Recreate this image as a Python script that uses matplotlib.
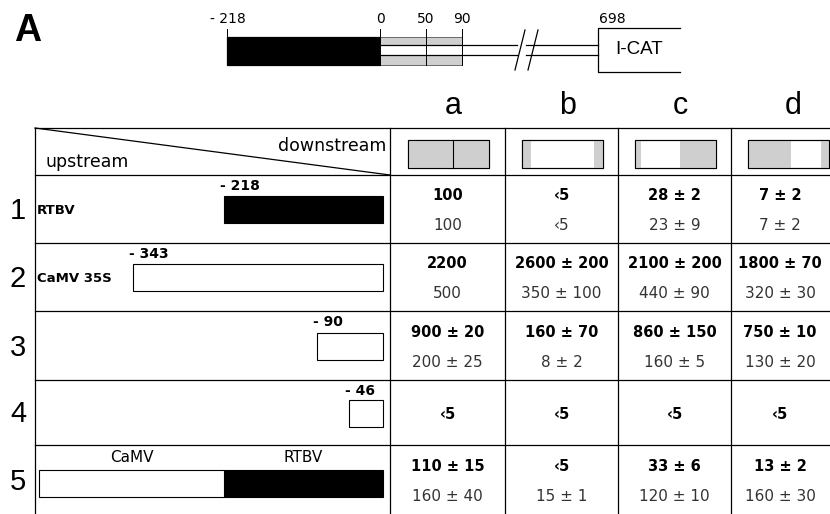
import matplotlib.pyplot as plt
from matplotlib.patches import Rectangle

# Column / row labels
col_labels = ['a', 'b', 'c', 'd']
row_labels = ['1', '2', '3', '4', '5']

# Promoter constructs (upstream end, bp relative to start site)
promoter_names = ['RTBV', 'CaMV 35S', '', '', '']
promoter_starts = [-218, -343, -90, -46, None]
promoter_fill = ['black', 'white', 'white', 'white', None]
# row 5 chimera: CaMV -343..-90 fused to RTBV -218..0
chimera_parts = [('CaMV', 253, 'white'), ('RTBV', 218, 'black')]

# Leader segments kept in each downstream construct (bp 0..90)
leader_kept = [[(0, 50), (50, 90)], [(0, 10), (81, 90)], [(0, 7), (50, 90)], [(0, 48), (82, 90)]]

# Activities: bold (upper) and regular (lower) values per column, rows 1-5
act_a_top = ['100', '2200', '900 ± 20', '‹5', '110 ± 15']
act_a_bot = ['100', '500', '200 ± 25', '', '160 ± 40']
act_b_top = ['‹5', '2600 ± 200', '160 ± 70', '‹5', '‹5']
act_b_bot = ['‹5', '350 ± 100', '8 ± 2', '', '15 ± 1']
act_c_top = ['28 ± 2', '2100 ± 200', '860 ± 150', '‹5', '33 ± 6']
act_c_bot = ['23 ± 9', '440 ± 90', '160 ± 5', '', '120 ± 10']
act_d_top = ['7 ± 2', '1800 ± 70', '750 ± 10', '‹5', '13 ± 2']
act_d_bot = ['7 ± 2', '320 ± 30', '130 ± 20', '', '160 ± 30']

# Top map tick labels
map_ticks = [-218, 0, 50, 90]

tops = [act_a_top, act_b_top, act_c_top, act_d_top]
bots = [act_a_bot, act_b_bot, act_c_bot, act_d_bot]

fig = plt.figure(figsize=(8.3, 5.14), dpi=100)
ax = fig.add_axes([0, 0, 1, 1])
ax.set_xlim(0, 830)
ax.set_ylim(514, 0)
ax.axis('off')

LS = 'Liberation Sans'
DV = 'DejaVu Sans'
gray = '#cfcfcf'
lw = 0.9

# ---- panel label
ax.text(28, 31, 'A', fontsize=27, fontweight='bold', family=LS, va='center', ha='center')

# ---- top map
def map_x(bp):
    if bp <= 0:
        return 380 + bp * 0.70
    return 380 + bp * 0.91

y0, y1 = 37, 65
ax.add_patch(Rectangle((map_x(-218), y0), map_x(0) - map_x(-218), y1 - y0, fc='black', ec='black', lw=lw))
ax.add_patch(Rectangle((map_x(0), y0), map_x(90) - map_x(0), y1 - y0, fc=gray, ec='#555555', lw=0.6))
ax.add_patch(Rectangle((map_x(0), 45), map_x(90) - map_x(0), 10, fc='white', ec='none'))
ax.plot([map_x(0), 517], [45, 45], color='black', lw=lw)
ax.plot([map_x(0), 517], [55, 55], color='black', lw=lw)
ax.plot([526, 598], [45, 45], color='black', lw=lw)
ax.plot([526, 598], [55, 55], color='black', lw=lw)
ax.plot([515, 525], [70, 30], color='black', lw=lw)
ax.plot([528, 538], [70, 30], color='black', lw=lw)
for t in map_ticks:
    ax.plot([map_x(t), map_x(t)], [29, y1], color='black', lw=0.7)
    ax.text(map_x(t), 19, str(t).replace('-', '- '), fontsize=10, family=DV, ha='center', va='center')
ax.text(612, 19, '698', fontsize=10, family=DV, ha='center', va='center')
ax.plot([680, 598, 598, 680], [28, 28, 72, 72], color='black', lw=lw)
ax.text(639, 50, 'I-CAT', fontsize=13.5, family=LS, ha='center', va='center')

# ---- table grid
col_edges = [390, 505, 618, 731, 844]
row_edges = [128, 175, 243, 311, 380, 445, 514]
for y in row_edges[:-1]:
    ax.plot([35, 830], [y, y], color='black', lw=lw)
for x in [35] + col_edges[:-1]:
    ax.plot([x, x], [128, 514], color='black', lw=lw)
ax.plot([35, 390], [128, 175], color='black', lw=lw)
ax.text(386, 146, 'downstream', fontsize=12.5, family=DV, ha='right', va='center')
ax.text(45, 162, 'upstream', fontsize=12.5, family=DV, ha='left', va='center')

# column letters and leader constructs
for j, lab in enumerate(col_labels):
    cx = (col_edges[j] + col_edges[j + 1]) / 2
    ax.text(cx + 6, 106, lab, fontsize=22, family=LS, ha='center', va='center')
    bx0 = cx - 40
    sc = 81 / 90
    ax.add_patch(Rectangle((bx0, 140), 81, 28, fc='white', ec='black', lw=0.8))
    for s, e in leader_kept[j]:
        ax.add_patch(Rectangle((bx0 + s * sc, 140), (e - s) * sc, 28, fc=gray, ec='none'))
    ax.add_patch(Rectangle((bx0, 140), 81, 28, fc='none', ec='black', lw=0.8))
    if j == 0:
        ax.plot([bx0 + 50 * sc] * 2, [140, 168], color='black', lw=0.8)

# row numbers, promoter constructs
def prom_x(bp):
    return 383 + bp * 0.73

for i, lab in enumerate(row_labels):
    top, bot = row_edges[i + 1], row_edges[i + 2]
    mid = (top + bot) / 2
    ax.text(18, mid + 2, lab, fontsize=21, family=LS, ha='center', va='center')
    start = promoter_starts[i]
    if start is not None:
        bx = prom_x(start)
        ax.add_patch(Rectangle((bx, mid - 13), prom_x(0) - bx, 27,
                               fc=promoter_fill[i], ec='black', lw=0.8))
        ax.text(bx - 4, top + 11, str(start).replace('-', '- '), fontsize=10,
                fontweight='bold', family=DV, ha='left', va='center')
        if promoter_names[i]:
            ax.text(37, mid + 1, promoter_names[i], fontsize=9.5, fontweight='bold',
                    family=DV, ha='left', va='center')
    else:
        x = prom_x(0)
        for name, length, fc in reversed(chimera_parts):
            ax.add_patch(Rectangle((x - length * 0.73, mid - 10), length * 0.73, 27,
                                   fc=fc, ec='black', lw=0.8))
            ax.text(x - length * 0.73 / 2, top + 13, name, fontsize=11, family=DV,
                    ha='center', va='center')
            x -= length * 0.73

    # activity values
    for j in range(4):
        cx = (col_edges[j] + col_edges[j + 1]) / 2
        if j == 3:
            cx = 780
        if bots[j][i]:
            ax.text(cx, mid - 13, tops[j][i], fontsize=10.5, fontweight='bold',
                    family=DV, ha='center', va='center')
            ax.text(cx, mid + 17, bots[j][i], fontsize=11, family=DV, color='#333333',
                    ha='center', va='center')
        else:
            ax.text(cx, mid + 2, tops[j][i], fontsize=10.5, fontweight='bold',
                    family=DV, ha='center', va='center')

fig.savefig('out.png', dpi=100)
